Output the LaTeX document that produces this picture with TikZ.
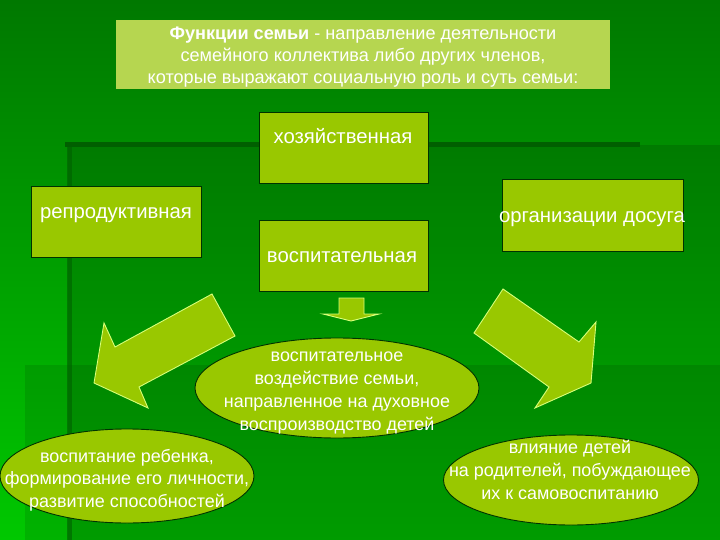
\documentclass[tikz,border=0pt]{standalone}
\usepackage{fontspec}
\setmainfont{Liberation Sans}
\usetikzlibrary{shapes.geometric}
\definecolor{bgtop}{RGB}{0,120,0}
\definecolor{bgbot}{RGB}{0,200,0}
\definecolor{bgline}{RGB}{0,95,0}
\definecolor{boxfill}{RGB}{153,200,0}
\definecolor{titlefill}{RGB}{182,214,80}
\definecolor{arrline}{RGB}{215,255,120}
\definecolor{boxline}{RGB}{0,50,0}
\begin{document}
\begin{tikzpicture}[x=1bp,y=-1bp,
  fbox/.style={draw=boxline, line width=0.9bp, fill=boxfill, inner sep=0pt, anchor=north west},
  tbox/.style={fill=titlefill, inner sep=0pt, anchor=north west},
  lbl/.style={text=white, font=\fontsize{20.4}{22}\selectfont, inner sep=0pt, anchor=base},
  etxt/.style={text=white, font=\fontsize{18}{22.8}\selectfont, inner sep=0pt, align=center},
  oval/.style={ellipse, draw=black!80!green, line width=0.9bp, fill=boxfill, inner sep=0pt},
  fat/.style={fill=boxfill, draw=arrline, line width=0.9bp, line join=miter}
]
\useasboundingbox (0,0) rectangle (720,540);
% background
\shade[top color=bgtop, bottom color=bgbot] (0,0) rectangle (720,540);
\fill[black, opacity=0.13] (68,145) rectangle (720,540);
\fill[black, opacity=0.10] (25,365) rectangle (720,540);
\fill[bgline] (65,142) rectangle (640,147);
\fill[bgline, opacity=0.6] (67,147) rectangle (72,540);

% title
\node[tbox, minimum width=494bp, minimum height=69bp] (title) at (116,20) {};
\node[etxt, font=\fontsize{18.2}{22}\selectfont] (titletext) at (363,57)
  {\textbf{Функции семьи} - направление деятельности\\
   семейного коллектива либо других членов,\\
   которые выражают социальную роль и суть семьи:};

% boxes
\node[fbox, minimum width=169bp, minimum height=71bp] (hoz) at (259,112) {};
\node[lbl] (hozt) at (343,143.5) {хозяйственная};
\node[fbox, minimum width=170bp, minimum height=71bp] (rep) at (31,186) {};
\node[lbl] (rept) at (116,218.5) {репродуктивная};
\node[fbox, minimum width=169bp, minimum height=71bp] (vos) at (259,220) {};
\node[lbl] (vost) at (342,262.5) {воспитательная};
\node[fbox, minimum width=181bp, minimum height=72bp] (org) at (502,179) {};
\node[lbl] (orgt) at (592,222.5) {организации досуга};

% down arrow
\draw[fat] (339,298) -- (364,298) -- (364,314) -- (379,314) -- (351,321) -- (323,314) -- (339,314) -- cycle;

% fat arrows
\draw[fat] (212,294) -- (235,336) -- (139,387) -- (148,408) -- (94,383) -- (104,323) -- (115,347) -- cycle;
\draw[fat] (503,289) -- (579,342) -- (596,322) -- (591,383) -- (535,408) -- (549,387) -- (474,333) -- cycle;

% ellipses
\node[oval, minimum width=284bp, minimum height=100bp] (mid) at (337,388) {};
\node[etxt] (midt) at (337,393) {воспитательное\\воздействие семьи,\\направленное на духовное\\воспроизводство детей};
\node[oval, minimum width=254bp, minimum height=94bp] (left) at (127,476) {};
\node[etxt] (leftt) at (127,480) {воспитание ребенка,\\формирование его личности,\\развитие способностей};
\node[oval, minimum width=255bp, minimum height=90bp] (right) at (571,480) {};
\node[etxt] (rightt) at (570,470) {влияние детей\\на родителей, побуждающее\\их к самовоспитанию};
\end{tikzpicture}
\end{document}
